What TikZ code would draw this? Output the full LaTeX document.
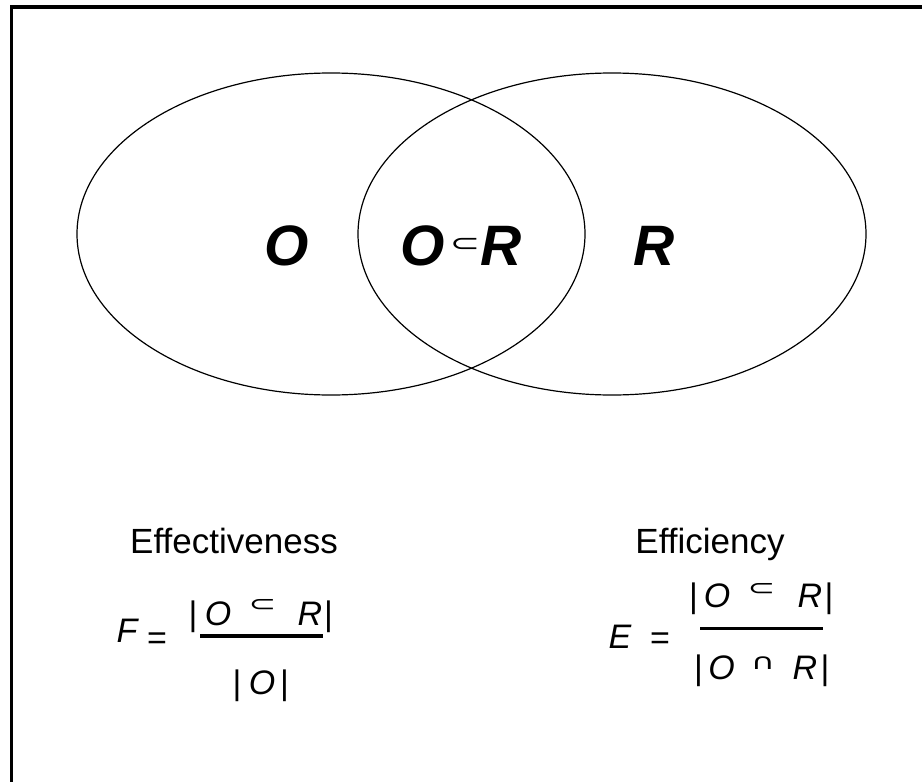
\documentclass[tikz,border=0pt]{standalone}
\usepackage{fontspec}
\usepackage{graphicx}
\setmainfont{Liberation Sans}
\newfontfamily\symf{DejaVu Sans}
\usetikzlibrary{shapes.geometric}
\newcommand\bigsubset{\scalebox{1.5}[1]{\fontsize{24}{24}\symf ⊂}}
\newcommand\smsubset{\scalebox{1.5}[1]{\fontsize{22}{22}\symf ⊂}}
\newcommand\smcap{\scalebox{1.5}[1]{\fontsize{22}{22}\symf ∩}}
\tikzset{
  setshape/.style={ellipse, draw, line width=1.2pt, minimum width=508pt, minimum height=322pt, inner sep=0pt},
  biglab/.style={font=\fontsize{57}{60}\selectfont\bfseries\itshape, inner sep=0pt, anchor=base},
  word/.style={font=\fontsize{35}{40}\selectfont, inner sep=0pt, anchor=base},
  frm/.style={font=\fontsize{34}{40}\selectfont, inner sep=0pt, anchor=base},
  var/.style={frm, font=\fontsize{34}{40}\selectfont\itshape},
  sym/.style={inner sep=0pt, anchor=north},
  fbar/.style={line width=3.5pt},
  frame/.style={line width=3.2pt},
}
\begin{document}
\begin{tikzpicture}[x=1pt,y=-1pt]
\useasboundingbox (0,0) rectangle (922,782);
\coordinate (fbl) at (11.5,790);
\coordinate (ftl) at (11.5,7);
\coordinate (ftr) at (930,7);
\draw[frame] (fbl) -- (ftl) -- (ftr);

\node[setshape] (setO) at (331,234) {};
\node[setshape] (setR) at (612,234) {};

\node[biglab] (lO) at (287,265) {O};
\node[biglab] (lOa) at (423,265) {O};
\node[sym, anchor=center] (lOb) at (465,245) {\bigsubset};
\node[biglab] (lOc) at (501,265) {R};
\node[biglab] (lR) at (654,265) {R};

\node[word] (eff1) at (234,553) {Effectiveness};
\node[word] (eff2) at (710,553) {Efficiency};

% F formula
\node[var] (fF) at (127,642) {F};
\node[frm] (fEq) at (157,649) {=};
\node[frm] (fn1) at (193,625) {|};
\node[var] (fn2) at (218,625) {O};
\node[sym] (fn3) at (262.5,599) {\smsubset};
\node[var] (fn4) at (310,625) {R};
\node[frm] (fn5) at (328.5,625) {|};
\node[frm] (fd1) at (237,694) {|};
\node[var] (fd2) at (262,694) {O};
\node[frm] (fd3) at (284.5,694) {|};
\coordinate (fb1) at (200,636);
\coordinate (fb2) at (323,636);
\draw[fbar] (fb1) -- (fb2);

% E formula
\node[var] (eE) at (620,648) {E};
\node[frm] (eEq) at (660,649) {=};
\node[frm] (en1) at (693.5,607) {|};
\node[var] (en2) at (717,607) {O};
\node[sym] (en3) at (761.5,583) {\smsubset};
\node[var] (en4) at (810,607) {R};
\node[frm] (en5) at (829,607) {|};
\node[frm] (ed1) at (698.5,679) {|};
\node[var] (ed2) at (721.5,679) {O};
\node[sym] (ed3) at (763,657) {\smcap};
\node[var] (ed4) at (805,679) {R};
\node[frm] (ed5) at (825,679) {|};
\coordinate (eb1) at (700,628.5);
\coordinate (eb2) at (823,628.5);
\draw[fbar] (eb1) -- (eb2);
\end{tikzpicture}
\end{document}
